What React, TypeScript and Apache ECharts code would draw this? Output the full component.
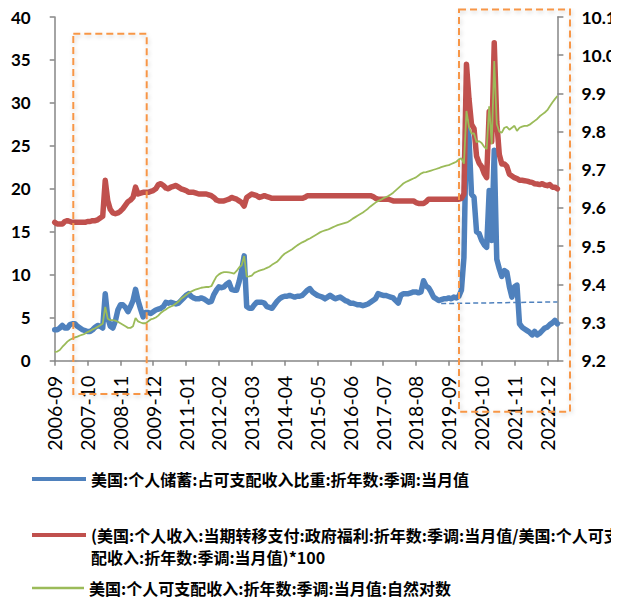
import React, { useEffect, useRef } from "react";
import * as echarts from "echarts";

// ---- categories (monthly, 2006-09 .. 2023-04) ----
const START_YEAR = 2006;
const START_MONTH = 9;
const MONTH_COUNT = 200;
const months: string[] = [];
for (let k = 0; k < MONTH_COUNT; k++) {
  const m = START_MONTH - 1 + k;
  const y = START_YEAR + Math.floor(m / 12);
  const mm = (m % 12) + 1;
  months.push(`${y}-${String(mm).padStart(2, "0")}`);
}

const seriesNames = [
  "美国:个人储蓄:占可支配收入比重:折年数:季调:当月值",
  "(美国:个人收入:当期转移支付:政府福利:折年数:季调:当月值/美国:个人可支配收入:折年数:季调:当月值)*100",
  "美国:个人可支配收入:折年数:季调:当月值:自然对数",
];

// ---- series values ----
const savingRate = [
  3.6, 3.6, 3.8, 4.1, 3.8, 3.8, 4.2, 4.3, 4.3, 4.0, 3.8, 3.6,
  3.5, 3.4, 3.4, 3.6, 3.9, 4.1, 4.0, 3.8, 7.8, 5.0, 4.0, 3.8,
  4.6, 5.9, 6.5, 6.5, 6.2, 5.7, 6.3, 7.0, 8.3, 7.0, 6.0, 5.1,
  5.6, 5.6, 5.5, 5.7, 5.9, 6.0, 6.1, 6.3, 6.8, 6.7, 6.8, 6.7,
  6.6, 6.7, 7.0, 7.3, 7.6, 7.8, 7.5, 7.3, 7.2, 7.2, 7.3, 7.2,
  7.0, 6.8, 6.9, 7.7, 8.2, 8.6, 8.5, 8.6, 8.9, 9.1, 8.3, 8.2,
  8.2, 9.2, 10.5, 12.2, 6.3, 6.1, 6.1, 6.5, 6.8, 6.8, 6.8, 6.7,
  6.3, 6.2, 6.1, 6.5, 6.9, 7.2, 7.4, 7.5, 7.5, 7.6, 7.5, 7.4,
  7.5, 7.5, 7.6, 7.9, 8.2, 8.4, 8.0, 7.8, 7.6, 7.5, 7.4, 7.2,
  7.4, 7.6, 7.4, 7.2, 7.3, 7.4, 7.2, 7.0, 6.9, 6.7, 6.7, 6.6,
  6.5, 6.5, 6.4, 6.5, 6.6, 6.8, 7.0, 7.2, 7.8, 7.7, 7.6, 7.6,
  7.5, 7.4, 7.3, 7.0, 6.7, 7.6, 7.8, 7.8, 7.8, 7.9, 8.0, 8.0,
  7.9, 8.0, 9.3, 8.7, 8.5, 8.0, 7.4, 7.2, 7.0, 7.1, 7.2, 7.2,
  7.3, 7.2, 7.4, 7.3, 7.5, 8.2, 12.0, 27.5, 26.0, 19.4, 19.0, 15.0,
  14.8, 14.0, 13.5, 13.2, 19.8, 14.0, 24.5, 11.8, 10.7, 9.8, 10.5, 10.3,
  8.6, 7.4, 8.6, 8.8, 4.3, 3.9, 3.7, 3.5, 3.3, 3.0, 3.4, 3.0,
  3.2, 3.5, 3.8, 3.9, 4.2, 4.4, 4.7, 4.3,
];

const transferShare = [
  16.1, 15.9, 15.9, 15.9, 16.2, 16.3, 16.2, 16.1, 16.1, 16.1, 16.1, 16.1,
  16.1, 16.2, 16.2, 16.3, 16.3, 16.4, 16.6, 16.8, 21.0, 18.6, 17.6, 17.2,
  17.1, 17.2, 17.4, 17.7, 18.1, 18.5, 18.7, 19.0, 20.2, 19.4, 19.5, 19.6,
  19.6, 19.6, 19.7, 19.8, 20.0, 20.5, 20.6, 20.4, 20.1, 20.0, 20.2, 20.3,
  20.4, 20.2, 20.0, 19.9, 19.8, 19.6, 19.6, 19.6, 19.5, 19.4, 19.4, 19.4,
  19.4, 19.3, 19.2, 19.0, 18.7, 18.6, 18.6, 18.6, 18.7, 18.8, 19.0, 18.9,
  18.8, 18.6, 18.4, 18.0, 19.0, 19.2, 19.4, 19.3, 19.2, 19.0, 19.1, 19.2,
  19.1, 19.0, 18.9, 18.9, 18.9, 18.9, 18.9, 18.9, 18.9, 18.9, 18.9, 18.9,
  18.9, 18.9, 18.9, 19.0, 19.2, 19.2, 19.2, 19.2, 19.2, 19.2, 19.2, 19.2,
  19.2, 19.2, 19.2, 19.2, 19.2, 19.2, 19.2, 19.2, 19.2, 19.2, 19.2, 19.2,
  19.2, 19.2, 19.2, 19.2, 19.2, 19.2, 19.1, 18.9, 18.8, 18.8, 18.8, 18.8,
  18.8, 18.7, 18.6, 18.6, 18.6, 18.6, 18.6, 18.6, 18.6, 18.6, 18.6, 18.4,
  18.3, 18.3, 18.3, 18.5, 18.8, 18.8, 18.8, 18.8, 18.8, 18.8, 18.8, 18.8,
  18.8, 18.8, 18.8, 18.8, 18.8, 18.9, 19.4, 34.5, 30.5, 27.5, 27.0, 23.8,
  23.0, 22.6, 21.8, 21.3, 29.0, 25.5, 37.0, 27.8, 24.0, 22.9, 22.9, 22.6,
  21.7, 21.5, 21.3, 21.2, 21.0, 21.0, 20.95, 20.9, 20.8, 20.75, 20.6, 20.57,
  20.5, 20.6, 20.45, 20.37, 20.5, 20.2, 20.2, 20.0,
];

const lnIncome = [
  9.223, 9.224, 9.228, 9.236, 9.243, 9.25, 9.255, 9.258, 9.261, 9.263, 9.266, 9.268,
  9.271, 9.275, 9.278, 9.282, 9.285, 9.289, 9.293, 9.297, 9.341, 9.31, 9.306, 9.306,
  9.305, 9.302, 9.298, 9.294, 9.29, 9.286, 9.286, 9.29, 9.312, 9.303, 9.3, 9.298,
  9.298, 9.303, 9.308, 9.31, 9.313, 9.318, 9.325, 9.33, 9.334, 9.339, 9.342, 9.345,
  9.35, 9.355, 9.362, 9.367, 9.372, 9.377, 9.381, 9.384, 9.387, 9.389, 9.391, 9.392,
  9.393, 9.393, 9.395, 9.408, 9.42, 9.426, 9.43, 9.432, 9.432, 9.431, 9.43, 9.428,
  9.435, 9.444, 9.45, 9.474, 9.42, 9.421, 9.423, 9.43, 9.433, 9.436, 9.438, 9.44,
  9.443, 9.446, 9.451, 9.455, 9.459, 9.466, 9.474, 9.48, 9.484, 9.488, 9.492, 9.497,
  9.502, 9.506, 9.51, 9.513, 9.517, 9.52, 9.524, 9.528, 9.532, 9.536, 9.539, 9.541,
  9.543, 9.546, 9.549, 9.552, 9.555, 9.557, 9.559, 9.561, 9.563, 9.567, 9.572, 9.576,
  9.58, 9.584, 9.588, 9.593, 9.598, 9.604, 9.609, 9.614, 9.618, 9.621, 9.625, 9.628,
  9.631, 9.635, 9.64, 9.646, 9.652, 9.658, 9.664, 9.668, 9.671, 9.674, 9.677, 9.68,
  9.685, 9.69, 9.693, 9.694, 9.696, 9.698, 9.7, 9.702, 9.704, 9.707, 9.709, 9.711,
  9.712, 9.715, 9.718, 9.721, 9.727, 9.73, 9.716, 9.854, 9.812, 9.795, 9.795, 9.772,
  9.775, 9.77, 9.76, 9.754, 9.866, 9.767, 9.985, 9.82, 9.8, 9.797, 9.81, 9.812,
  9.805, 9.81, 9.815, 9.802, 9.81, 9.813, 9.815, 9.815, 9.818, 9.823, 9.828, 9.833,
  9.84, 9.845, 9.85, 9.856, 9.866, 9.876, 9.885, 9.893,
];

// dashed reference line on the saving-rate series
const trendFrom = { month: "2019-06", value: 6.65 };
const trendTo = { month: "2023-04", value: 6.84 };

// axis ranges
const leftAxis = { min: 0, max: 40, interval: 5 };
const rightAxis = { min: 9.2, max: 10.1, interval: 0.1 };

const COLORS = ["#4F81BD", "#C0504D", "#9BBB59"];
const NUM_FONT = "Lato, 'Liberation Sans', sans-serif";
const CJK_FONT = "'Noto Sans CJK SC', sans-serif";

export default function App() {
  const ref = useRef<HTMLDivElement>(null);

  useEffect(() => {
    if (!ref.current) return;
    const chart = echarts.init(ref.current, undefined, { renderer: "svg" });

    const legendText = {
      fontFamily: CJK_FONT,
      fontWeight: "bold" as const,
      fontSize: 16,
      color: "#000",
    };
    const boxStyle = {
      fill: "none",
      stroke: "#F79646",
      lineWidth: 2,
      lineDash: [7, 4],
      shadowBlur: 4,
      shadowColor: "rgba(0,0,0,0.18)",
      shadowOffsetX: 1,
      shadowOffsetY: 2,
    };

    chart.setOption({
      animation: false,
      backgroundColor: "#fff",
      grid: { left: 44, right: 49, top: 7.7, bottom: 239.3, containLabel: false },
      xAxis: {
        type: "category",
        data: months,
        boundaryGap: false,
        axisLine: { lineStyle: { color: "#868686", width: 1.5 } },
        axisTick: { show: true, interval: 12, length: 5, lineStyle: { color: "#868686", width: 1.5 } },
        axisLabel: {
          interval: 12,
          rotate: 90,
          margin: 15,
          fontFamily: NUM_FONT,
          fontSize: 19.5,
          color: "#000",
        },
        splitLine: { show: false },
      },
      yAxis: [
        {
          type: "value",
          min: leftAxis.min,
          max: leftAxis.max,
          interval: leftAxis.interval,
          position: "left",
          axisLine: { show: true, lineStyle: { color: "#868686", width: 1.5 } },
          axisTick: { show: true, length: 5, lineStyle: { color: "#868686", width: 1.5 } },
          axisLabel: { margin: 24, fontFamily: NUM_FONT, fontWeight: "bold", fontSize: 17, color: "#000" },
          splitLine: { show: false },
        },
        {
          type: "value",
          min: rightAxis.min,
          max: rightAxis.max,
          interval: rightAxis.interval,
          position: "right",
          axisLine: { show: true, lineStyle: { color: "#868686", width: 1.5 } },
          axisTick: { show: true, length: 6, lineStyle: { color: "#868686", width: 1.5 } },
          axisLabel: {
            margin: 24,
            fontFamily: NUM_FONT,
            fontWeight: "bold",
            fontSize: 17.5,
            color: "#000",
            formatter: (v: number) => v.toFixed(1),
          },
          splitLine: { show: false },
        },
      ],
      legend: [
        {
          data: [seriesNames[0]],
          left: 24,
          top: 463,
          padding: 0,
          icon: "rect",
          itemWidth: 54,
          itemHeight: 4,
          selectedMode: false,
          textStyle: legendText,
        },
        {
          data: [seriesNames[1]],
          left: 24,
          top: 516,
          padding: 0,
          // bar at the top of a 54x26 box, so it lines up with the first text line
          icon: "path://M0,0L54,0L54,4L0,4ZM0,26L0.01,26Z",
          itemWidth: 54,
          itemHeight: 26,
          selectedMode: false,
          formatter: (n: string) => n.replace("个人可支配", "个人可支\n配"),
          textStyle: { ...legendText, lineHeight: 22 },
        },
        {
          data: [seriesNames[2]],
          left: 24,
          top: 572,
          padding: 0,
          icon: "rect",
          itemWidth: 52,
          itemHeight: 2.5,
          selectedMode: false,
          textStyle: legendText,
        },
      ],
      series: [
        {
          name: seriesNames[0],
          type: "line",
          data: savingRate,
          yAxisIndex: 0,
          showSymbol: false,
          symbol: "none",
          color: COLORS[0],
          lineStyle: { width: 5.5, color: COLORS[0], join: "round", cap: "round" },
          z: 2,
          markLine: {
            silent: true,
            symbol: ["none", "none"],
            label: { show: false },
            lineStyle: { type: [5, 3], color: COLORS[0], width: 1.5 },
            data: [
              [
                { coord: [trendFrom.month, trendFrom.value] },
                { coord: [trendTo.month, trendTo.value] },
              ],
            ],
          },
        },
        {
          name: seriesNames[1],
          type: "line",
          data: transferShare,
          yAxisIndex: 0,
          showSymbol: false,
          symbol: "none",
          color: COLORS[1],
          lineStyle: { width: 5.5, color: COLORS[1], join: "round", cap: "round" },
          z: 3,
        },
        {
          name: seriesNames[2],
          type: "line",
          data: lnIncome,
          yAxisIndex: 1,
          showSymbol: false,
          symbol: "none",
          color: COLORS[2],
          lineStyle: { width: 1.8, color: COLORS[2] },
          z: 4,
        },
      ],
      graphic: [
        {
          type: "rect",
          z: 100,
          shape: { x: 65.3, y: 25.7, width: 73.4, height: 360.3 },
          style: boxStyle,
          silent: true,
        },
        {
          type: "rect",
          z: 100,
          shape: { x: 451, y: 1.5, width: 111, height: 402.2 },
          style: boxStyle,
          silent: true,
        },
      ],
    });

    return () => chart.dispose();
  }, []);

  return <div ref={ref} style={{ width: 611, height: 592 }} />;
}
